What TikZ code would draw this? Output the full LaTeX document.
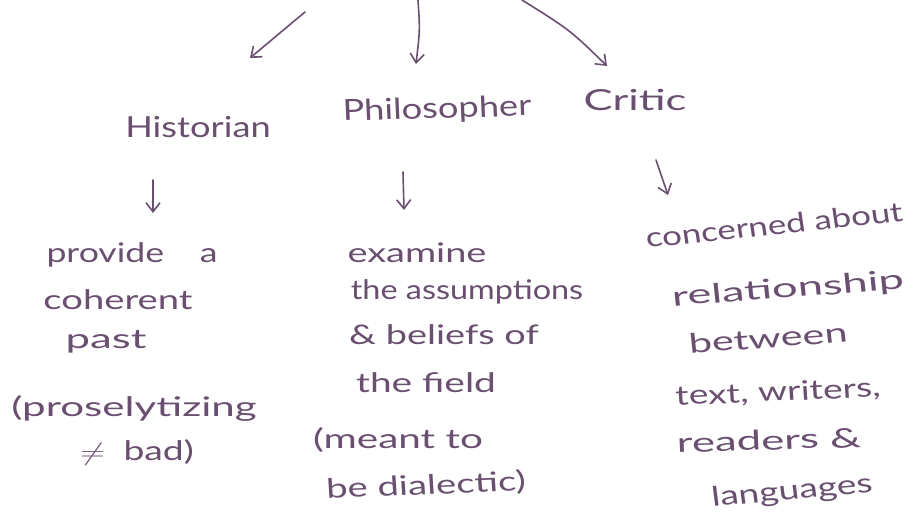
\documentclass[tikz,border=0pt]{standalone}
\usepackage{fontspec}
\setmainfont{Lato}
\usetikzlibrary{arrows.meta}
\definecolor{ink}{HTML}{6A4F70}
\tikzset{
  hand/.style={text=ink, font=\fontsize{27}{30}\selectfont, inner sep=0pt, xscale=1.2},
  label/.style={text=ink, font=\fontsize{29}{32}\selectfont, inner sep=0pt, xscale=1.25},
  pen/.style={draw=ink, line width=1.6pt, line cap=round, line join=round,
    -{Straight Barb[length=9pt, width=14pt, line width=1.6pt]}},
}
\begin{document}
\begin{tikzpicture}[x=1pt, y=-1pt]
\useasboundingbox[fill=white] (0,0) rectangle (908,519);
% top arrows
\coordinate (t1) at (305,12);
\coordinate (e1) at (250,58);
\coordinate (t2) at (418,0);
\coordinate (e2) at (416,64);
\coordinate (t3) at (522,0);
\coordinate (e3) at (607,66);
\draw[pen] (t1) -- (e1);
\draw[pen] (t2) .. controls (420,30) .. (e2);
\draw[pen] (t3) .. controls (570,30) .. (e3);
% role labels
\node[label] (hist) at (198,127) {Historian};
\node[label, rotate=2] (phil) at (437,110) {Philosopher};
\node[label, xscale=1.2] (crit) at (635,100) {Critic};
% small arrows
\coordinate (h1) at (153,180); \coordinate (h2) at (153,213);
\coordinate (p1) at (403,172); \coordinate (p2) at (404,210);
\coordinate (c1) at (656,160); \coordinate (c2) at (668,195);
\draw[pen] (h1) -- (h2);
\draw[pen] (p1) -- (p2);
\draw[pen] (c1) -- (c2);
% Historian column
\node[hand, xscale=1.1] (hA) at (132,255) {provide\quad a};
\node[hand, xscale=1.18] (hB) at (118,300) {coherent};
\node[hand, xscale=1.35] (hC) at (106,342) {past};
\node[hand, xscale=1.3] (hD) at (134,408) {(proselytizing};
\node[hand, xscale=1.15] (hE) at (137,452) {$\neq$\enspace bad)};
% Philosopher column
\node[hand, xscale=1.17] (pA) at (417,253) {examine};
\node[hand] (pB) at (467,292) {the assumptions};
\node[hand, xscale=1.17] (pC) at (444,335) {\& beliefs of};
\node[hand, xscale=1.2] (pD) at (426,383) {the field};
\node[hand, xscale=1.25] (pE) at (398,440) {(meant to};
\node[hand, rotate=3, xscale=1.18] (pF) at (426,486) {be dialectic)};
% Critic column
\node[hand, rotate=7, xscale=1.08] (cA) at (774,225) {concerned about};
\node[hand, rotate=5, xscale=1.4] (cB) at (788,290) {relationship};
\node[hand, rotate=5, xscale=1.28] (cC) at (768,338) {between};
\node[hand, rotate=3, xscale=1.15] (cD) at (778,393) {text, writers,};
\node[hand, rotate=2, xscale=1.35] (cE) at (769,440) {readers \&};
\node[hand, rotate=6, xscale=1.15] (cF) at (792,492) {languages};
\end{tikzpicture}
\end{document}
